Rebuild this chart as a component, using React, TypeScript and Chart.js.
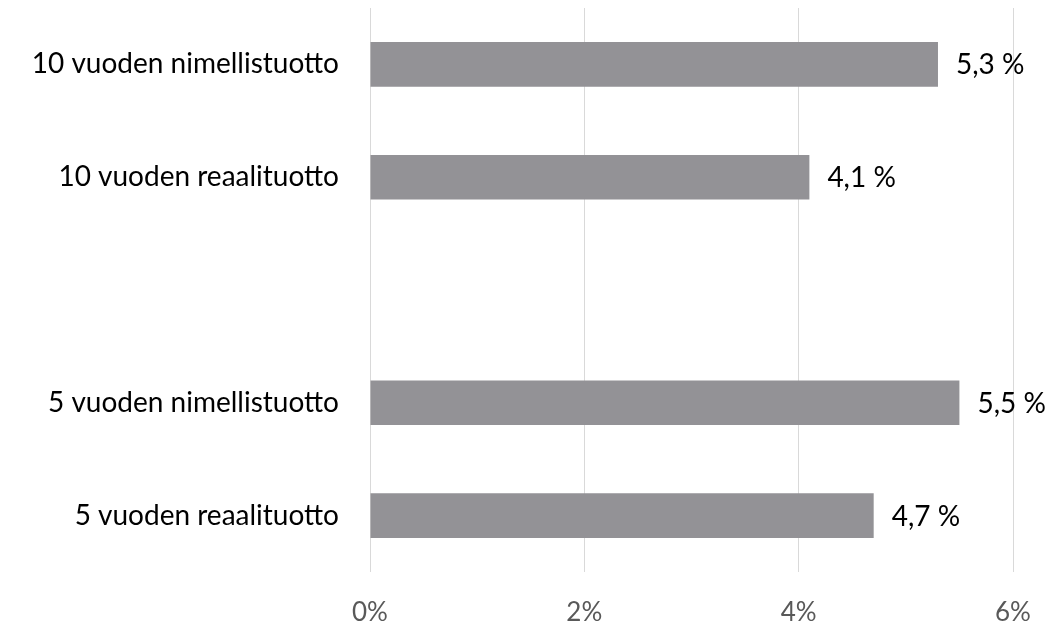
import React, { useEffect, useRef } from "react";
import { Chart, registerables } from "chart.js";

Chart.register(...registerables);

const categories = [
  "10 vuoden nimellistuotto",
  "10 vuoden reaalituotto",
  "",
  "5 vuoden nimellistuotto",
  "5 vuoden reaalituotto",
];
const values: (number | null)[] = [5.3, 4.1, null, 5.5, 4.7];
const valueLabels = ["5,3 %", "4,1 %", "", "5,5 %", "4,7 %"];
const xTicks = [0, 2, 4, 6];

const FONT = "Lato";

const labelPlugin = {
  id: "barLabels",
  afterDatasetsDraw(chart: any) {
    const ctx = chart.ctx;
    const meta = chart.getDatasetMeta(0);
    ctx.save();
    ctx.font = `28px ${FONT}`;
    ctx.fillStyle = "#000000";
    ctx.textAlign = "left";
    ctx.textBaseline = "middle";
    meta.data.forEach((el: any, i: number) => {
      if (values[i] == null) return;
      ctx.fillText(valueLabels[i], el.x + 18, el.y + 1);
    });
    ctx.restore();
  },
};

export default function App() {
  const ref = useRef<HTMLCanvasElement>(null);
  useEffect(() => {
    if (!ref.current) return;
    const chart = new Chart(ref.current, {
      type: "bar",
      data: {
        labels: categories,
        datasets: [
          {
            data: values as any,
            backgroundColor: "#939296",
            borderWidth: 0,
            barPercentage: 0.395,
            categoryPercentage: 1,
          },
        ],
      },
      options: {
        indexAxis: "y",
        animation: false,
        responsive: true,
        maintainAspectRatio: false,
        layout: { padding: { top: 8, right: 48, left: 0, bottom: 0 } },
        plugins: { legend: { display: false }, tooltip: { enabled: false } },
        scales: {
          x: {
            min: 0,
            max: 6,
            afterBuildTicks: (scale: any) => {
              scale.ticks = xTicks.map((v) => ({ value: v }));
            },
            afterFit: (scale: any) => {
              scale.height = 54;
              scale.paddingLeft = 0;
              scale.paddingRight = 0;
            },
            grid: { color: "#d9d9d9", lineWidth: 1, drawTicks: false },
            border: { display: false },
            ticks: {
              padding: 25,
              color: "#595959",
              font: { family: FONT, size: 26 },
              callback: (v: any) => `${v}%`,
            },
          },
          y: {
            afterFit: (scale: any) => {
              scale.width = 370;
              scale.paddingTop = 0;
              scale.paddingBottom = 0;
            },
            grid: { display: false, drawTicks: false },
            border: { display: false },
            ticks: {
              padding: 31,
              color: "#000000",
              font: { family: FONT, size: 28 },
            },
          },
        },
      },
      plugins: [labelPlugin],
    });
    return () => chart.destroy();
  }, []);
  return (
    <div style={{ position: "fixed", left: 0, top: 0, width: 1061, height: 626, background: "#fff" }}>
      <canvas ref={ref} />
    </div>
  );
}
